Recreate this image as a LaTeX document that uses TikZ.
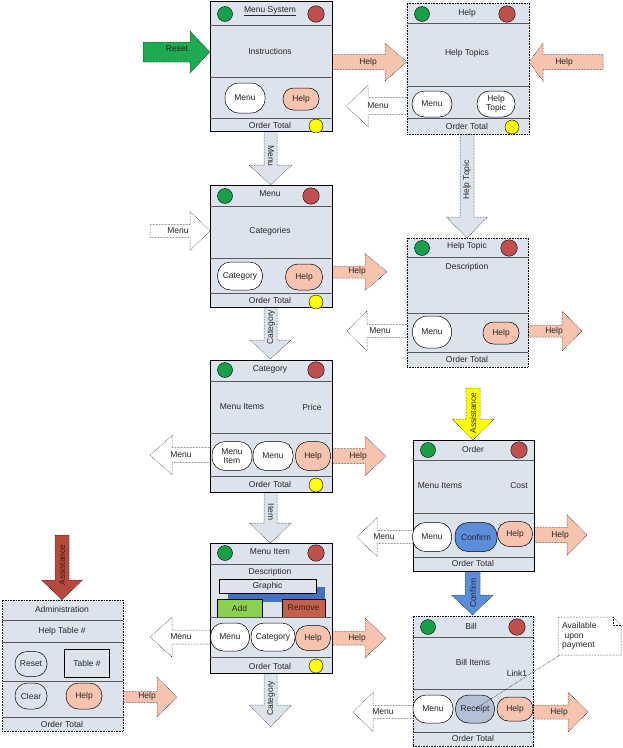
\documentclass[tikz,border=0pt]{standalone}
\usepackage{fontspec}
\setmainfont{Liberation Sans}
\definecolor{scr}{RGB}{221,227,237}
\definecolor{helpc}{RGB}{246,196,174}
\definecolor{gcol}{RGB}{24,160,72}
\definecolor{rcol}{RGB}{192,80,77}
\definecolor{ycol}{RGB}{255,255,0}
\definecolor{resetc}{RGB}{30,170,80}
\definecolor{confc}{RGB}{91,141,219}
\definecolor{recc}{RGB}{180,192,214}
\definecolor{addc}{RGB}{140,208,80}
\definecolor{remc}{RGB}{196,96,74}
\definecolor{bluer}{RGB}{66,114,196}
\definecolor{admc}{RGB}{184,72,60}
\newcommand\harr[7]{\draw[#1] (#2,#5-#6) -- (#3,#5-#6) -- (#3,#5-#7) -- (#4,#5) -- (#3,#5+#7) -- (#3,#5+#6) -- (#2,#5+#6) -- cycle;}
\newcommand\varr[7]{\draw[#1] (#2-#6,#3) -- (#2-#6,#4) -- (#2-#7,#4) -- (#2,#5) -- (#2+#7,#4) -- (#2+#6,#4) -- (#2+#6,#3) -- cycle;}
\tikzset{
 every node/.style={font=\fontsize{8.5}{9.5}\selectfont, text=black!85},
 screen/.style={draw=black, line width=0.6pt, fill=scr, inner sep=0pt, outer sep=0pt, anchor=north west},
 dscreen/.style={screen, densely dotted},
 sepl/.style={draw=black!65, line width=0.9pt},
 btn/.style={draw=black, line width=0.5pt, rounded corners=13pt, fill=white, inner sep=0pt, align=center},
 hbtn/.style={btn, fill=helpc},
 gdot/.style={circle, draw=black, line width=0.4pt, inner sep=0pt, minimum size=15pt, fill=gcol},
 rdot/.style={circle, draw=black, line width=0.4pt, inner sep=0pt, minimum size=16.5pt, fill=rcol},
 ydot/.style={circle, draw=black, line width=0.4pt, inner sep=0pt, minimum size=14pt, fill=ycol},
 txt/.style={inner sep=0pt},
 arr/.style={draw=black, line width=0.5pt, densely dotted},
 whitearr/.style={arr, fill=white},
 helparr/.style={arr, fill=helpc},
 scrarr/.style={arr, fill=scr},
 lbl/.style={inner sep=0pt},
}
\begin{document}
\begin{tikzpicture}[x=1pt,y=-1pt]
\useasboundingbox (0,0) rectangle (623,748);

% ---------------- arrows (drawn first) ----------------
\harr{arr, fill=resetc}{143}{190}{210}{52}{10}{21}
\node[lbl] (lreset) at (177,49) {Reset};
\harr{helparr}{332}{385}{407}{62}{7.5}{19}
\node[lbl] (lh1) at (368,62) {Help};
\harr{helparr}{603}{543}{529}{62}{7.5}{19}
\node[lbl] (lh2) at (564,62) {Help};
\harr{whitearr}{407}{368}{346}{106}{8.5}{20.5}
\node[lbl] (lm2) at (378,106) {Menu};
\varr{scrarr}{270.5}{131}{165}{185}{6.5}{21.5}
\node[lbl, rotate=-90] (lm1) at (271,156) {Menu};
\varr{scrarr}{467}{134}{217}{238}{7}{20.5}
\node[lbl, rotate=90] (lht) at (467,180) {Help Topic};
\harr{whitearr}{150}{190}{210}{231}{6.5}{19.5}
\node[lbl] (lm3) at (178,231) {Menu};
\harr{helparr}{332}{365}{387}{272}{6}{18.5}
\node[lbl] (lh3) at (357,271) {Help};
\varr{scrarr}{270.5}{307}{340}{359}{6.5}{20.5}
\node[lbl, rotate=90] (lcat1) at (271,327) {Category};
\harr{whitearr}{407}{367}{347}{331}{6.5}{20}
\node[lbl] (lm4) at (380,331) {Menu};
\harr{helparr}{528}{562}{582}{331}{6}{20}
\node[lbl] (lh4) at (554,331) {Help};
\harr{whitearr}{210}{172}{150}{455}{7.5}{19.5}
\node[lbl] (lm5) at (181,455) {Menu};
\harr{helparr}{332}{365}{386}{456}{7.5}{19.5}
\node[lbl] (lh5) at (358,456) {Help};
\varr{scrarr}{270.5}{492}{523}{543}{6.5}{21}
\node[lbl, rotate=-90] (litem) at (271,512) {Item};
\harr{whitearr}{210}{172}{150}{637}{7}{20}
\node[lbl] (lm6) at (181,637) {Menu};
\harr{helparr}{332}{365}{386}{638}{7}{20}
\node[lbl] (lh6) at (357,638) {Help};
\varr{scrarr}{270.5}{673}{705}{727}{6.5}{21}
\node[lbl, rotate=90] (lcat2) at (271,698) {Category};
\varr{arr, fill=ycol}{473}{388}{419}{440}{7}{21}
\node[lbl, rotate=90] (lass1) at (473,413) {Assistance};
\harr{whitearr}{413}{377}{357}{537}{6.5}{19.5}
\node[lbl] (lm7) at (384,537) {Menu};
\harr{helparr}{534}{567}{587}{535}{7.5}{20.5}
\node[lbl] (lh7) at (560,535) {Help};
\varr{arr, fill=confc}{472.5}{571}{595}{615}{7.5}{21}
\node[lbl, rotate=90] (lconf) at (473,593) {Confirm};
\harr{whitearr}{413}{373}{353}{712}{6.5}{19.5}
\node[lbl] (lm8) at (383,712) {Menu};
\harr{helparr}{533}{568}{588}{712}{7}{20}
\node[lbl] (lh8) at (559,712) {Help};
\varr{arr, fill=admc}{62}{535}{580}{600}{7}{20.5}
\node[lbl, rotate=90] (lass2) at (62,565) {Assistance};
\harr{helparr}{123}{157}{177}{697}{5.5}{20}
\node[lbl] (lh9) at (147,696) {Help};

% ---------------- Screen 1: Menu System ----------------
\node[screen, minimum width=122pt, minimum height=130pt] (s1) at (210,1) {};
\draw[sepl] (210,25) -- (332,25);
\draw[sepl] (210,77) -- (332,77);
\draw[sepl] (210,118) -- (332,118);
\node[gdot] (s1g) at (225,14) {};
\node[rdot] (s1r) at (316,14) {};
\node[txt] (s1t) at (270,11) {\underline{Menu System}};
\node[txt] (s1b) at (270,51) {Instructions};
\node[btn, minimum width=40pt, minimum height=30pt, rounded corners=14pt] (s1menu) at (245,98) {Menu};
\node[hbtn, minimum width=36pt, minimum height=22pt, rounded corners=10.5pt] (s1help) at (301,99) {Help};
\node[txt] (s1o) at (270,125) {Order Total};
\node[ydot] (s1y) at (316,126) {};

% ---------------- Screen 2: Help ----------------
\node[dscreen, minimum width=122pt, minimum height=131pt] (s2) at (407,3) {};
\draw[sepl] (407,23) -- (529,23);
\draw[sepl] (407,86) -- (529,86);
\draw[sepl] (407,118) -- (529,118);
\node[gdot] (s2g) at (422,14) {};
\node[rdot] (s2r) at (507,14) {};
\node[txt] (s2t) at (467,13) {Help};
\node[txt] (s2b) at (467,53) {Help Topics};
\node[btn, minimum width=40pt, minimum height=26pt, rounded corners=12.5pt] (s2menu) at (432,104) {Menu};
\node[btn, minimum width=38pt, minimum height=26pt, rounded corners=12.5pt] (s2ht) at (496,104) {Help\\Topic};
\node[txt] (s2o) at (467,126) {Order Total};
\node[ydot] (s2y) at (512,127) {};

% ---------------- Screen 3: Menu ----------------
\node[screen, minimum width=122pt, minimum height=122pt] (s3) at (210,185) {};
\draw[sepl] (210,206) -- (332,206);
\draw[sepl] (210,258) -- (332,258);
\draw[sepl] (210,293) -- (332,293);
\node[gdot] (s3g) at (225,196) {};
\node[rdot] (s3r) at (311,196) {};
\node[txt] (s3t) at (270,194) {Menu};
\node[txt] (s3b) at (270,231) {Categories};
\node[btn, minimum width=45pt, minimum height=28pt] (s3cat) at (240,276) {Category};
\node[hbtn, minimum width=37pt, minimum height=26pt, rounded corners=12.5pt] (s3help) at (304,277) {Help};
\node[txt] (s3o) at (270,300) {Order Total};
\node[ydot] (s3y) at (316,302) {};

% ---------------- Screen 4: Help Topic ----------------
\node[dscreen, minimum width=121pt, minimum height=129pt] (s4) at (407,238) {};
\draw[sepl] (407,257) -- (528,257);
\draw[sepl] (407,313) -- (528,313);
\draw[sepl] (407,352) -- (528,352);
\node[gdot] (s4g) at (422,248) {};
\node[rdot] (s4r) at (509,248) {};
\node[txt] (s4t) at (467,246) {Help Topic};
\node[txt] (s4b) at (467,267) {Description};
\node[btn, minimum width=39pt, minimum height=32pt, rounded corners=15pt] (s4menu) at (432,332) {Menu};
\node[hbtn, minimum width=36pt, minimum height=22pt, rounded corners=10.5pt] (s4help) at (501,333) {Help};
\node[txt] (s4o) at (467,359) {Order Total};

% ---------------- Screen 5: Category ----------------
\node[screen, minimum width=122pt, minimum height=132pt] (s5) at (210,360) {};
\draw[sepl] (210,381) -- (332,381);
\draw[sepl] (210,433) -- (332,433);
\draw[sepl] (210,476) -- (332,476);
\node[gdot] (s5g) at (225,370) {};
\node[rdot] (s5r) at (316,370) {};
\node[txt] (s5t) at (270,369) {Category};
\node[txt] (s5b1) at (242,407) {Menu Items};
\node[txt] (s5b2) at (312,407) {Price};
\node[btn, minimum width=40pt, minimum height=29pt] (s5mi) at (232,456) {Menu\\Item};
\node[btn, minimum width=40pt, minimum height=29pt] (s5menu) at (273,456) {Menu};
\node[hbtn, minimum width=35pt, minimum height=29pt] (s5help) at (313,456) {Help};
\node[txt] (s5o) at (270,484) {Order Total};
\node[ydot] (s5y) at (316,485) {};

% ---------------- Screen 6: Menu Item ----------------
\node[screen, minimum width=122pt, minimum height=130pt] (s6) at (210,543) {};
\draw[sepl] (210,564) -- (332,564);
\draw[sepl] (210,657) -- (332,657);
\node[gdot] (s6g) at (225,553) {};
\node[rdot] (s6r) at (316,553) {};
\node[txt] (s6t) at (270,552) {Menu Item};
\node[txt] (s6d) at (270,572) {Description};
\fill[bluer] (228,587) rectangle (325,602);
\node[draw=black, line width=0.5pt, fill=scr, inner sep=0pt, minimum width=97pt, minimum height=14pt] (s6gr) at (267.5,586) {Graphic};
\node[draw=black, line width=0.5pt, fill=addc, inner sep=0pt, minimum width=45pt, minimum height=18pt] (s6add) at (239.5,608) {Add};
\node[draw=black, line width=0.5pt, fill=remc, inner sep=0pt, minimum width=43pt, minimum height=18pt] (s6rem) at (303.5,608) {Remove};
\draw[sepl] (210,617) -- (332,617);
\node[btn, minimum width=39pt, minimum height=28pt] (s6menu) at (230,637) {Menu};
\node[btn, minimum width=44pt, minimum height=28pt] (s6cat) at (273,637) {Category};
\node[hbtn, minimum width=35pt, minimum height=25pt, rounded corners=12pt] (s6help) at (313,638) {Help};
\node[txt] (s6o) at (270,666) {Order Total};
\node[ydot] (s6y) at (316,666) {};

% ---------------- Screen 7: Order ----------------
\node[screen, minimum width=121pt, minimum height=131pt] (s7) at (413,440) {};
\draw[sepl] (413,460) -- (534,460);
\draw[sepl] (413,513) -- (534,513);
\draw[sepl] (413,557) -- (534,557);
\node[gdot] (s7g) at (428,450) {};
\node[rdot] (s7r) at (519,450) {};
\node[txt] (s7t) at (473,449) {Order};
\node[txt] (s7b1) at (440,486) {Menu Items};
\node[txt] (s7b2) at (519,486) {Cost};
\node[btn, minimum width=39pt, minimum height=29pt] (s7menu) at (432,537) {Menu};
\node[btn, fill=confc, minimum width=42pt, minimum height=29pt] (s7conf) at (476,537) {Confirm};
\node[hbtn, minimum width=35pt, minimum height=25pt, rounded corners=12pt] (s7help) at (515,534) {Help};
\node[txt] (s7o) at (473,563) {Order Total};

% ---------------- Screen 8: Bill ----------------
\node[dscreen, minimum width=120pt, minimum height=130pt] (s8) at (413,616) {};
\draw[sepl] (413,637) -- (533,637);
\draw[sepl] (413,689) -- (533,689);
\draw[sepl] (413,732) -- (533,732);
\node[gdot] (s8g) at (428,627) {};
\node[rdot] (s8r) at (517,627) {};
\node[txt] (s8t) at (471,626) {Bill};
\node[txt] (s8b) at (473,662) {Bill Items};
\node[txt] (s8l) at (517,673) {Link1};
\node[btn, minimum width=40pt, minimum height=28pt] (s8menu) at (433,709) {Menu};
\node[btn, fill=recc, minimum width=39pt, minimum height=28pt] (s8rec) at (475,709) {Receipt};
\node[hbtn, minimum width=36pt, minimum height=24pt, rounded corners=11.5pt] (s8help) at (515,709) {Help};
\node[txt] (s8o) at (473,738) {Order Total};

% note
\draw[arr, fill=white] (558,617) -- (613,617) -- (621,625) -- (621,655) -- (558,655) -- cycle;
\draw[arr] (613,617) -- (613,625) -- (621,625);
\node[txt, align=left, anchor=north west, font=\fontsize{8.5}{9.7}\selectfont] (note) at (562,622) {Available\\\hspace{2.5pt}upon\\payment};
\coordinate (notec) at (560,655);
\draw[black, line width=0.5pt, densely dotted] (notec) -- (s8rec.center);

% ---------------- Screen 9: Administration ----------------
\node[dscreen, minimum width=121pt, minimum height=131pt] (s9) at (2,600) {};
\draw[sepl] (2,620) -- (123,620);
\draw[sepl] (2,642) -- (123,642);
\draw[sepl] (2,681) -- (123,681);
\draw[sepl] (2,717) -- (123,717);
\node[txt] (s9t) at (62,609) {Administration};
\node[txt] (s9h) at (62,631) {Help Table \#};
\node[btn, fill=scr, minimum width=32pt, minimum height=25pt, rounded corners=12pt] (s9reset) at (31,664) {Reset};
\node[draw=black, line width=0.5pt, fill=scr, inner sep=0pt, minimum width=45pt, minimum height=28pt] (s9tab) at (87,663) {Table \#};
\node[btn, fill=scr, minimum width=32pt, minimum height=26pt, rounded corners=12.5pt] (s9clear) at (31,696) {Clear};
\node[hbtn, minimum width=36pt, minimum height=26pt, rounded corners=12.5pt] (s9help) at (84,696) {Help};
\node[txt] (s9o) at (62,724) {Order Total};
\end{tikzpicture}
\end{document}
